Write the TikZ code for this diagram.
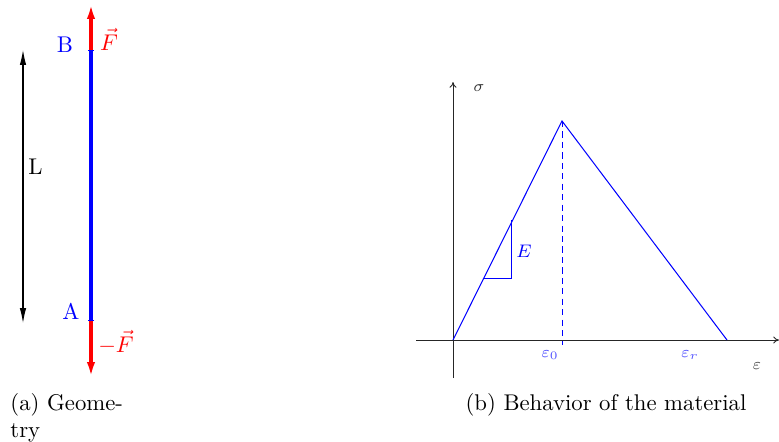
\documentclass[tikz,border=0pt]{standalone}
\usetikzlibrary{arrows.meta}
\begin{document}
\begin{tikzpicture}[x=0.44pt,y=-0.44pt,
  axis/.style={black!85,line width=0.4pt,-{To[length=2.5pt,width=3pt]}},
  curve/.style={blue,line width=0.45pt},
  force/.style={red,line width=1.4pt,-{Latex[length=6.5pt,width=3.6pt]}},
  lbl/.style={inner sep=0pt}]
\useasboundingbox (0,0) rectangle (779,441);
% ---------- (a) geometry ----------
\coordinate (B) at (91,50);
\coordinate (A) at (91,321);
\coordinate (Ftop) at (91,4);
\coordinate (Fbot) at (91,377);
\draw[force] (B) -- (Ftop);
\draw[force] (A) -- (Fbot);
\draw[blue,line width=1.4pt,{Bar[width=2.8pt,line width=0.4pt]}-{Bar[width=2.8pt,line width=0.4pt]}] (A) -- (B);
\coordinate (Ltop) at (23,50);
\coordinate (Lbot) at (23,323);
\draw[black,line width=0.45pt,{Latex[length=6.5pt,width=2.8pt]}-{Latex[length=6.5pt,width=2.8pt]}] (Lbot) -- (Ltop);
\node[lbl,anchor=west] (Llab) at (28,167) {L};
\node[lbl,blue] (Blab) at (65,45) {B};
\node[lbl,blue] (Alab) at (71,311) {A};
\node[lbl,red] (Flab) at (109,39) {$\vec F$};
\node[lbl,red] (mFlab) at (116,342) {$-\vec F$};
\node[lbl,anchor=north west,align=left] (capa) at (10,393) {(a) Geome-\\try};
% ---------- (b) behaviour ----------
\coordinate (O) at (453,340);
\coordinate (ybot) at (453,378);
\coordinate (ytop) at (453,82);
\coordinate (xleft) at (416,340);
\coordinate (xright) at (779,340);
\coordinate (P) at (562,121);
\coordinate (R) at (727,340);
\coordinate (Pdash) at (562,345);
\coordinate (T1) at (482.5,278);
\coordinate (T2) at (511.5,278);
\coordinate (T3) at (511.5,220);
\draw[axis] (ybot) -- (ytop);
\draw[axis] (xleft) -- (xright);
\draw[curve] (O) -- (P) -- (R);
\draw[curve,line width=0.4pt,dash pattern=on 2.7pt off 1.9pt] (P) -- (Pdash);
\draw[curve] (T1) -- (T2) -- (T3);
\node[lbl,black!80] (sig) at (479,88) {\scriptsize$\sigma$};
\node[lbl,black!70] (eps) at (757,366) {\scriptsize$\varepsilon$};
\node[lbl,blue!70] (e0) at (550,355) {\scriptsize$\varepsilon_0$};
\node[lbl,blue!70] (er) at (690,355) {\scriptsize$\varepsilon_r$};
\node[lbl,blue] (E) at (524,251) {\footnotesize$E$};
\node[lbl,anchor=north] (capb) at (606,393) {(b) Behavior of the material};
\end{tikzpicture}
\end{document}
